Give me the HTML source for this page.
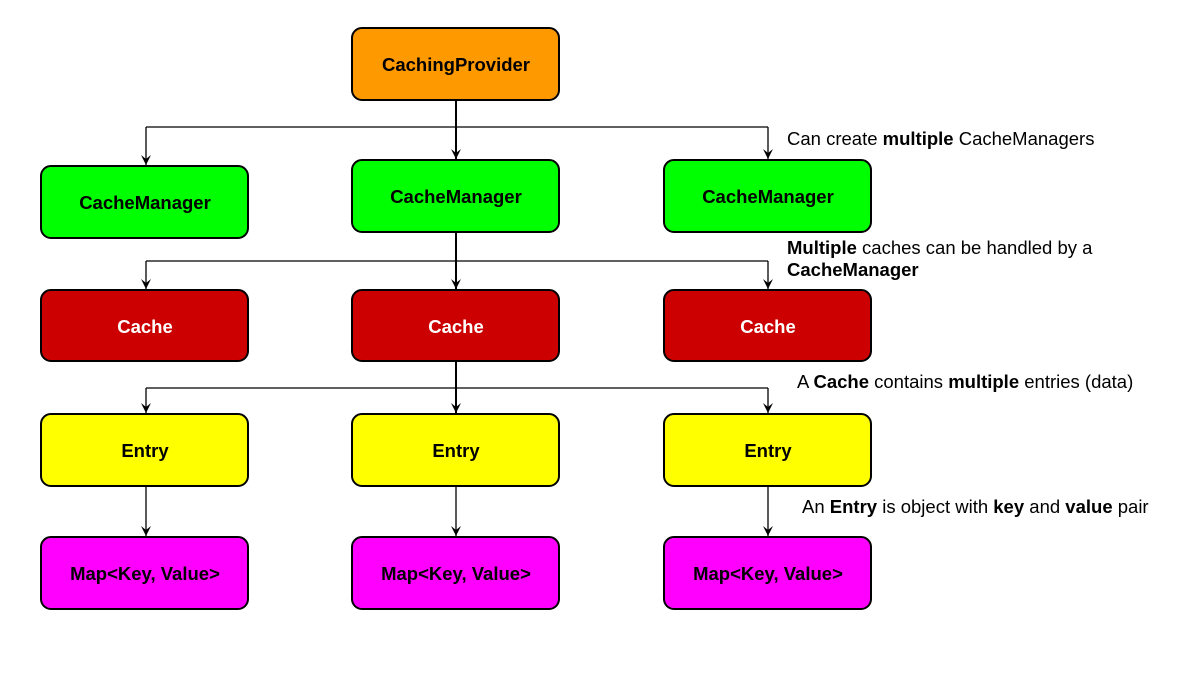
<!DOCTYPE html>
<html><head><style>
body{margin:0;background:#fff;}
svg{display:block;font-family:"Liberation Sans",Arial,sans-serif;}
.b{stroke:#000;stroke-width:2;}
.t{font-weight:bold;font-size:18.5px;text-anchor:middle;}
.a{font-size:18.5px;}
</style></head><body>
<svg width="1177" height="679" viewBox="0 0 1177 679">
<defs><marker id="m" markerWidth="12" markerHeight="12" refX="11" refY="6" orient="auto" markerUnits="userSpaceOnUse">
<path d="M1,1 L11,6 L1,11 L5,6 Z" fill="#000"/></marker></defs>
<g fill="none" stroke="#000">
<line x1="456" y1="100" x2="456" y2="159" stroke-width="2" marker-end="url(#m)"/>
<polyline points="146,127 768,127" stroke-width="1.3"/>
<line x1="146" y1="127" x2="146" y2="165" stroke-width="1.3" marker-end="url(#m)"/>
<line x1="768" y1="127" x2="768" y2="159" stroke-width="1.3" marker-end="url(#m)"/>
<line x1="456" y1="232" x2="456" y2="289" stroke-width="2" marker-end="url(#m)"/>
<polyline points="146,261 768,261" stroke-width="1.3"/>
<line x1="146" y1="261" x2="146" y2="289" stroke-width="1.3" marker-end="url(#m)"/>
<line x1="768" y1="261" x2="768" y2="289" stroke-width="1.3" marker-end="url(#m)"/>
<line x1="456" y1="361" x2="456" y2="413" stroke-width="2" marker-end="url(#m)"/>
<polyline points="146,388 768,388" stroke-width="1.3"/>
<line x1="146" y1="388" x2="146" y2="413" stroke-width="1.3" marker-end="url(#m)"/>
<line x1="768" y1="388" x2="768" y2="413" stroke-width="1.3" marker-end="url(#m)"/>
<line x1="146" y1="486" x2="146" y2="536" stroke-width="1.3" marker-end="url(#m)"/>
<line x1="456" y1="486" x2="456" y2="536" stroke-width="1.3" marker-end="url(#m)"/>
<line x1="768" y1="486" x2="768" y2="536" stroke-width="1.3" marker-end="url(#m)"/>
</g>
<rect class="b" x="352" y="28" width="207" height="72" rx="10" fill="#ff9900"/>
<text class="t" x="456" y="71">CachingProvider</text>
<rect class="b" x="41" y="166" width="207" height="72" rx="10" fill="#00ff00"/>
<text class="t" x="145" y="209">CacheManager</text>
<rect class="b" x="352" y="160" width="207" height="72" rx="10" fill="#00ff00"/>
<text class="t" x="456" y="203">CacheManager</text>
<rect class="b" x="664" y="160" width="207" height="72" rx="10" fill="#00ff00"/>
<text class="t" x="768" y="203">CacheManager</text>
<g fill="#cc0000">
<rect class="b" x="41" y="290" width="207" height="71" rx="10"/>
<rect class="b" x="352" y="290" width="207" height="71" rx="10"/>
<rect class="b" x="664" y="290" width="207" height="71" rx="10"/>
</g>
<text class="t" x="145" y="333" fill="#fff">Cache</text>
<text class="t" x="456" y="333" fill="#fff">Cache</text>
<text class="t" x="768" y="333" fill="#fff">Cache</text>
<g fill="#ffff00">
<rect class="b" x="41" y="414" width="207" height="72" rx="10"/>
<rect class="b" x="352" y="414" width="207" height="72" rx="10"/>
<rect class="b" x="664" y="414" width="207" height="72" rx="10"/>
</g>
<text class="t" x="145" y="457">Entry</text>
<text class="t" x="456" y="457">Entry</text>
<text class="t" x="768" y="457">Entry</text>
<g fill="#ff00ff">
<rect class="b" x="41" y="537" width="207" height="72" rx="10"/>
<rect class="b" x="352" y="537" width="207" height="72" rx="10"/>
<rect class="b" x="664" y="537" width="207" height="72" rx="10"/>
</g>
<text class="t" x="145" y="580">Map&lt;Key, Value&gt;</text>
<text class="t" x="456" y="580">Map&lt;Key, Value&gt;</text>
<text class="t" x="768" y="580">Map&lt;Key, Value&gt;</text>
<text class="a" x="787" y="145">Can create <tspan font-weight="bold">multiple</tspan> CacheManagers</text>
<text class="a" x="787" y="254"><tspan font-weight="bold">Multiple</tspan> caches can be handled by a</text>
<text class="a" x="787" y="276" font-weight="bold">CacheManager</text>
<text class="a" x="797" y="388">A <tspan font-weight="bold">Cache</tspan> contains <tspan font-weight="bold">multiple</tspan> entries (data)</text>
<text class="a" x="802" y="513">An <tspan font-weight="bold">Entry</tspan> is object with <tspan font-weight="bold">key</tspan> and <tspan font-weight="bold">value</tspan> pair</text>
</svg>
</body></html>
